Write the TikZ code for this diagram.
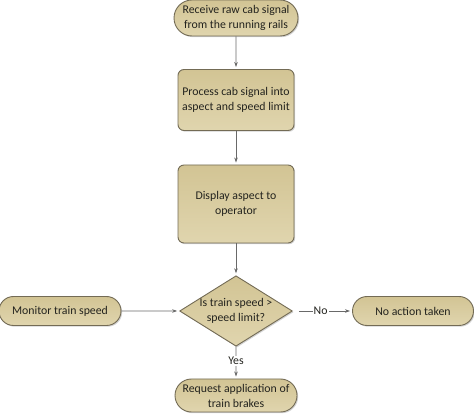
\documentclass[tikz,border=0pt]{standalone}
\usepackage{fontspec}
\setmainfont{Carlito}
\usetikzlibrary{shapes.geometric,shapes.misc,arrows.meta,shadows}
\definecolor{boxfill}{RGB}{210,196,148}
\definecolor{boxfilllight}{RGB}{224,213,174}
\definecolor{boxline}{RGB}{115,107,85}
\definecolor{arrowgray}{RGB}{105,105,105}
\definecolor{txt}{RGB}{35,35,30}
\tikzset{
  base/.style={draw=boxline, line width=0.9pt, top color=boxfill, bottom color=boxfilllight,
    drop shadow={shadow xshift=1.2pt, shadow yshift=-1.2pt, opacity=0.35},
    font=\fontsize{11.8}{15}\selectfont, text=txt, align=center, inner sep=0pt},
  term/.style={base, rounded rectangle},
  proc/.style={base, rectangle, rounded corners=6pt},
  decis/.style={base, diamond, aspect=1.6},
  conn/.style={draw=arrowgray, line width=0.7pt, -{Stealth[length=5pt,width=3.5pt]}, shorten >=2pt},
  lbl/.style={font=\fontsize{11.8}{14}\selectfont, text=txt, fill=white, inner sep=1pt}
}
\begin{document}
\begin{tikzpicture}[x=1pt,y=1pt]
\useasboundingbox (0,0) rectangle (474,415);
\node[term, minimum width=124pt, minimum height=36pt] (recv) at (236,397) {Receive raw cab signal\\from the running rails};
\node[proc, minimum width=116pt, minimum height=61pt] (proc) at (236,315) {Process cab signal into\\aspect and speed limit};
\node[proc, minimum width=116pt, minimum height=78pt] (disp) at (236,211) {Display aspect to\\operator};
\node[decis, minimum width=102pt, minimum height=64pt] (dec) at (236,104) {Is train speed \textgreater\\speed limit?};
\node[term, minimum width=122pt, minimum height=29pt] (mon) at (60,104) {Monitor train speed};
\node[term, minimum width=121pt, minimum height=29pt] (noact) at (413,104) {No action taken};
\node[term, minimum width=122pt, minimum height=33pt] (req) at (236,19.5) {Request application of\\train brakes};
\draw[conn] (recv) -- (proc);
\draw[conn] (proc) -- (disp);
\draw[conn] (disp) -- (dec);
\draw[conn] (mon) -- (dec);
\draw[conn, shorten <=6pt] (dec) -- node[lbl, pos=0.47] {No} (noact);
\draw[conn] (dec) -- node[lbl, pos=0.45] {Yes} (req);
\end{tikzpicture}
\end{document}
